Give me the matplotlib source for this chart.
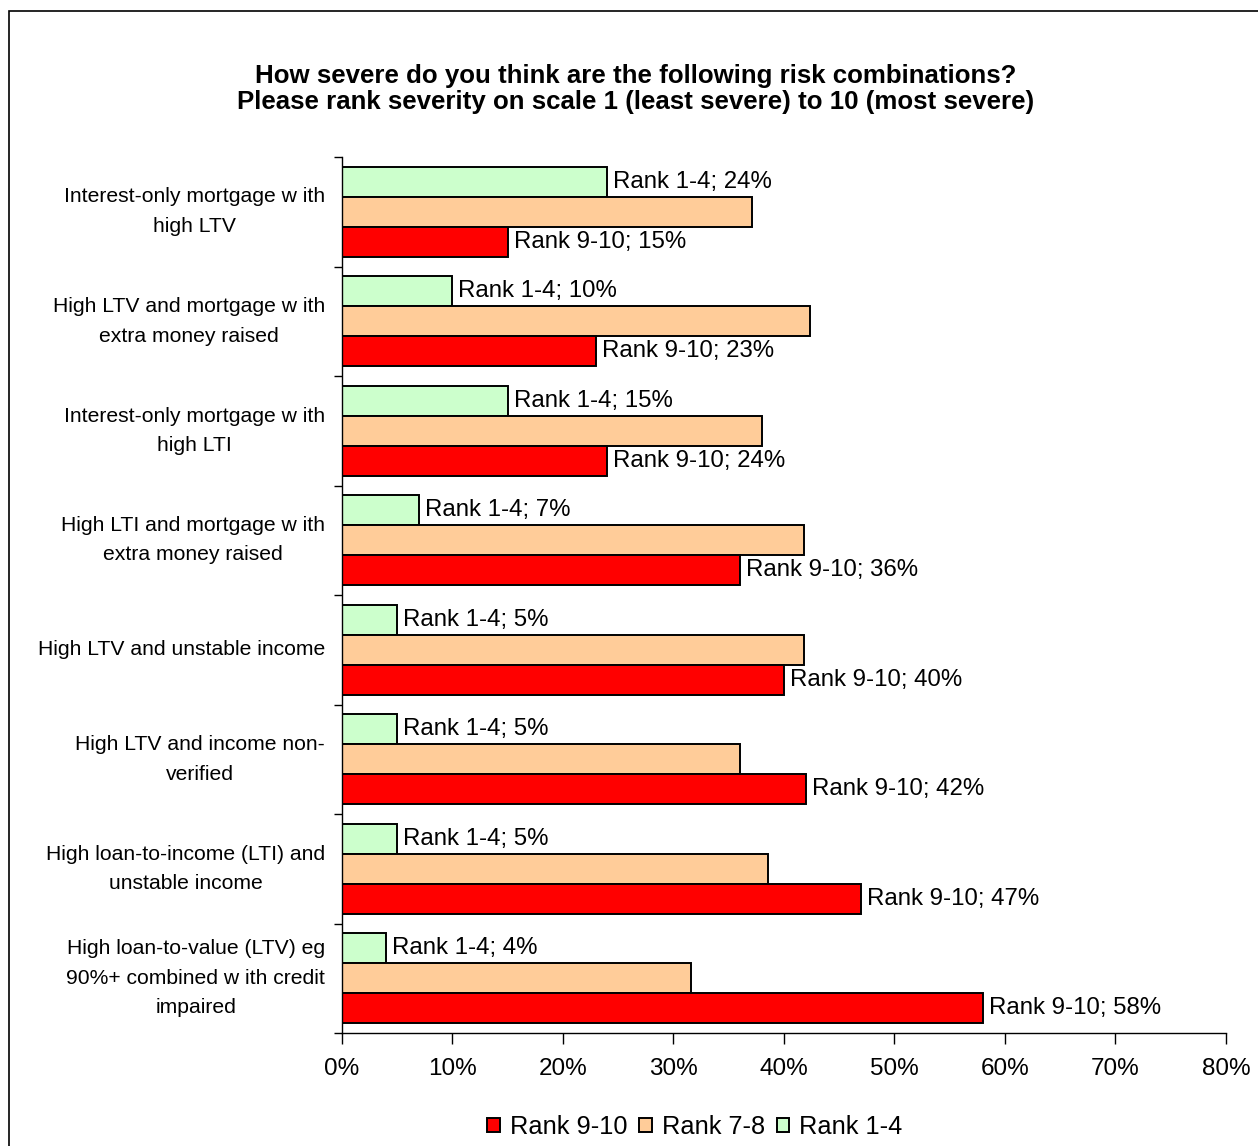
import matplotlib
matplotlib.use("Agg")
import matplotlib.pyplot as plt
from matplotlib.patches import Rectangle
import numpy as np

plt.rcParams['font.family'] = ['Liberation Sans', 'DejaVu Sans']

categories = [
    "Interest-only mortgage w ith\nhigh LTV",
    "High LTV and mortgage w ith\nextra money raised",
    "Interest-only mortgage w ith\nhigh LTI",
    "High LTI and mortgage w ith\nextra money raised",
    "High LTV and unstable income",
    "High LTV and income non-\nverified",
    "High loan-to-income (LTI) and\nunstable income",
    "High loan-to-value (LTV) eg\n90%+ combined w ith credit\nimpaired",
]
rank_1_4 = [24, 10, 15, 7, 5, 5, 5, 4]
rank_7_8 = [37.1, 42.4, 38.0, 41.8, 41.8, 36.0, 38.6, 31.6]
rank_9_10 = [15, 23, 24, 36, 40, 42, 47, 58]
x_ticks = [0, 10, 20, 30, 40, 50, 60, 70, 80]

title = ("How severe do you think are the following risk combinations?\n"
         "Please rank severity on scale 1 (least severe) to 10 (most severe)")

W, H = 1258, 1146
fig = plt.figure(figsize=(W / 100, H / 100), dpi=100)
ax = fig.add_axes([341.7 / W, 1 - 1033 / H, (1226 - 341.7) / W, (1033 - 157) / H])

fs_cat = 15.2
fs_val = 17.3
fs_x = 17.5
fs_leg = 18.3

y = np.arange(len(categories))
h = 0.274
edge = dict(edgecolor='black', linewidth=1.4)

b_green = ax.barh(y - h, rank_1_4, height=h, color='#CCFFCC', label='Rank 1-4', **edge)
b_orange = ax.barh(y, rank_7_8, height=h, color='#FFCC99', label='Rank 7-8', **edge)
b_red = ax.barh(y + h, rank_9_10, height=h, color='#FF0000', label='Rank 9-10', **edge)

for yy, v in zip(y - h, rank_1_4):
    ax.annotate(f"Rank 1-4; {v}%", (v, yy), xytext=(6, 0), textcoords='offset pixels',
                va='center', ha='left', fontsize=fs_val)
for yy, v in zip(y + h, rank_9_10):
    ax.annotate(f"Rank 9-10; {v}%", (v, yy), xytext=(6, 0), textcoords='offset pixels',
                va='center', ha='left', fontsize=fs_val)

ax.set_xlim(0, 80)
ax.set_ylim(len(categories) - 0.5, -0.5)
ax.set_xticks(x_ticks)
ax.set_xticklabels([f"{t}%" for t in x_ticks], fontsize=fs_x)

# category labels sit between boundary ticks
ax.set_yticks(y)
ax.set_yticklabels(categories, fontsize=fs_cat, multialignment='center', linespacing=1.7)
for lbl in ax.get_yticklabels():
    lbl.set_verticalalignment('center')
ax.tick_params(axis='y', which='major', length=0, pad=12)
ax.set_yticks(np.arange(len(categories) + 1) - 0.5, minor=True)
ax.tick_params(axis='y', which='minor', length=6, width=1, direction='out')
ax.tick_params(axis='x', length=8, width=1, direction='out', pad=10)

for s in ('top', 'right'):
    ax.spines[s].set_visible(False)
for s in ('left', 'bottom'):
    ax.spines[s].set_linewidth(1)

fig.text(636 / W, 1 - 89 / H, title, ha='center', va='center', fontsize=18.6,
         fontweight='bold', linespacing=1.1)

handles = [b_red, b_orange, b_green]
fig.legend(handles, [hd.get_label() for hd in handles], loc='center',
           bbox_to_anchor=(695 / W, 1 - 1127 / H), ncol=3, frameon=False,
           fontsize=fs_leg, handlelength=0.5, handleheight=0.5, handletextpad=0.4,
           columnspacing=0.45, borderpad=0)

fig.patches.append(Rectangle((9 / W, -0.05), 1.2, 1 - 11 / H + 0.05,
                             transform=fig.transFigure, fill=False,
                             edgecolor='black', linewidth=1.2))

fig.savefig("out.png", dpi=100)
